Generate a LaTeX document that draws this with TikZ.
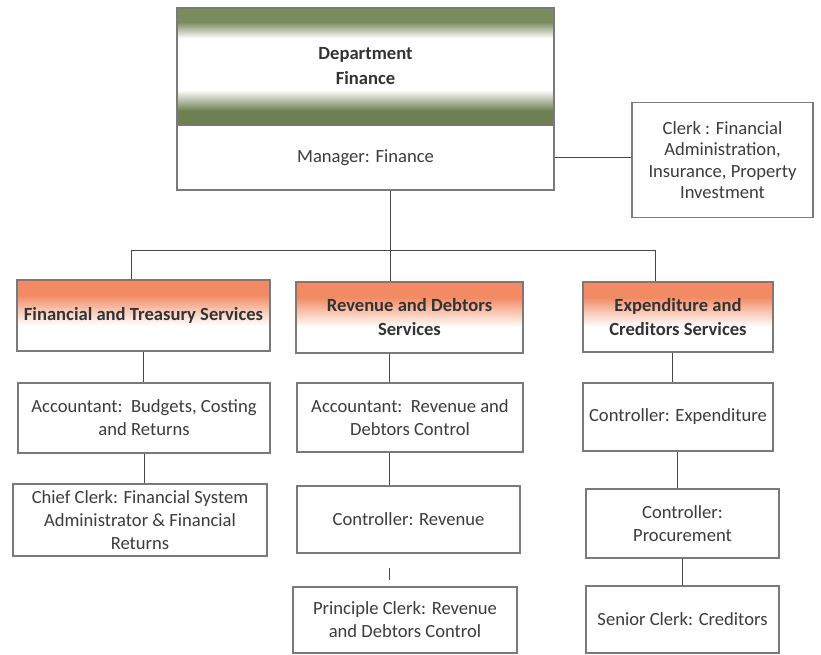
\documentclass[tikz,border=0pt]{standalone}
\usepackage{fontspec}
\setmainfont{Carlito}
\definecolor{gtop}{HTML}{7A8B5E}
\definecolor{gbot}{HTML}{6E7F52}
\definecolor{orng}{HTML}{F28B64}
\definecolor{boxline}{HTML}{7A7A7A}
\definecolor{conn}{HTML}{474747}
\definecolor{txt}{HTML}{3C3C3C}
\pgfdeclareverticalshading{greenband}{100bp}{color(0bp)=(gbot); color(25bp)=(gbot); color(31bp)=(gbot); color(40bp)=(white); color(62bp)=(white); color(69bp)=(gtop); color(75bp)=(gtop); color(100bp)=(gtop)}
\pgfdeclareverticalshading{orangefade}{100bp}{color(0bp)=(white); color(25bp)=(white); color(43bp)=(white); color(54bp)=(orng!50); color(64bp)=(orng); color(75bp)=(orng); color(100bp)=(orng)}
\tikzset{
  box/.style={draw=boxline, line width=1.1pt, fill=white, align=center, inner sep=0pt,
    text=txt, font=\fontsize{18.6}{23}\selectfont},
  hdr/.style={box, shade, shading=orangefade, font=\fontsize{18.6}{24}\selectfont\bfseries, text=black!80},
  link/.style={draw=conn, line width=1pt},
}
\begin{document}
\begin{tikzpicture}[x=1pt,y=-1pt]
\fill[white] (0,0) rectangle (821,655);
\useasboundingbox (0,0) rectangle (821,655);
% top
\node[box, shade, shading=greenband, minimum width=377pt, minimum height=117pt,
  font=\fontsize{18.6}{25}\selectfont\bfseries, text=black!80] (dept) at (365.5,66.5) {Department\\Finance};
\node[box, minimum width=377pt, minimum height=65pt] (mgr) at (365.5,157.5) {Manager: Finance};
\node[box, minimum width=181pt, minimum height=115pt, font=\fontsize{18.6}{21.5}\selectfont] (clerk) at (722.5,160)
  {Clerk : Financial\\Administration,\\Insurance, Property\\Investment};
% level 2
\node[hdr, minimum width=253pt, minimum height=71pt] (fts) at (143.5,315.5) {Financial and Treasury Services};
\node[hdr, minimum width=227pt, minimum height=71pt] (rds) at (409.5,317.5) {Revenue and Debtors\\Services};
\node[hdr, minimum width=190pt, minimum height=70pt] (ecs) at (678,317) {Expenditure and\\Creditors Services};
% level 3
\node[box, minimum width=252pt, minimum height=70pt] (accb) at (144,418) {Accountant:~~Budgets, Costing\\and Returns};
\node[box, minimum width=226pt, minimum height=69pt] (accr) at (410,417.5) {Accountant:~~Revenue and\\Debtors Control};
\node[box, minimum width=190pt, minimum height=68pt] (cexp) at (678,417) {Controller: Expenditure};
% level 4
\node[box, minimum width=254pt, minimum height=72pt] (chief) at (140,520) {Chief Clerk: Financial System\\Administrator \& Financial\\Returns};
\node[box, minimum width=223pt, minimum height=67pt] (crev) at (408.5,519.5) {Controller: Revenue};
\node[box, minimum width=193pt, minimum height=69pt] (cproc) at (682.5,523.5) {Controller:\\Procurement};
% level 5
\node[box, minimum width=224pt, minimum height=66pt] (princ) at (405,620) {Principle Clerk: Revenue\\and Debtors Control};
\node[box, minimum width=193pt, minimum height=67pt] (senior) at (682.5,619.5) {Senior Clerk: Creditors};
% coordinates
\coordinate (busL) at (131,250);
\coordinate (busM) at (390,250);
\coordinate (busR) at (655,250);
\coordinate (colB) at (389,0);
\coordinate (colE) at (672,0);
\coordinate (colF) at (677,0);
% connectors
\draw[link] (mgr.east) -- (mgr.east -| clerk.west);
\draw[link] (busM |- mgr.south) -- (busM |- rds.north);
\draw[link] (busL) -- (busR);
\draw[link] (busL) -- (busL |- fts.north);
\draw[link] (busR) -- (busR |- ecs.north);
\draw[link] (fts.south) -- (fts.south |- accb.north);
\draw[link] (accb.south) -- (accb.south |- chief.north);
\draw[link] (rds.south -| colB) -- (accr.north -| colB);
\draw[link] (accr.south -| colB) -- (crev.north -| colB);
\draw[link, shorten <=14pt, shorten >=6pt] (crev.south -| colB) -- (princ.north -| colB);
\draw[link] (ecs.south -| colE) -- (cexp.north -| colE);
\draw[link] (cexp.south -| colF) -- (cproc.north -| colF);
\draw[link] (cproc.south) -- (cproc.south |- senior.north);
\end{tikzpicture}
\end{document}
